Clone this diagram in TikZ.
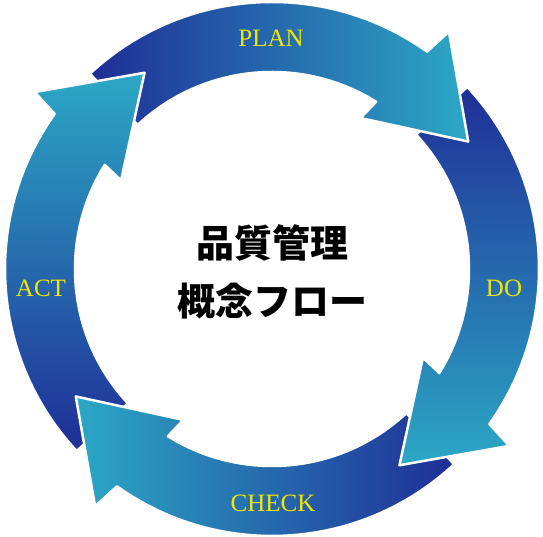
\documentclass[tikz,border=0pt]{standalone}
\usepackage{fontspec}
\setmainfont{Liberation Serif}
\newfontfamily\cjk{Noto Sans CJK JP}
\usepackage{tikz}
\definecolor{navy}{HTML}{1F2E96}
\definecolor{lightcyan}{HTML}{2CA8C5}
\definecolor{phaseyellow}{HTML}{F2E600}
\tikzstyle{ring}=[draw=white,line width=2.5,line join=round]
\tikzstyle{phase}=[text=phaseyellow,font=\fontsize{25}{25}\selectfont,inner sep=0pt]
\tikzstyle{title}=[font=\cjk\bfseries\fontsize{38}{58}\selectfont,align=center,inner sep=0pt]
% one bent arrow of the cycle, turned by #1 degrees
\newcommand{\cyclearrow}[2]{%
  \path[ring,#2] (#1+133:267) arc[start angle=#1+133,end angle=#1+54.5,radius=267]
    -- (#1+53.3:296) -- (#1+33:234) -- (#1+59.6:175) -- (#1+58.1:197)
    arc[start angle=#1+58.1,end angle=#1+133,radius=197] -- cycle;}

\begin{document}
\begin{tikzpicture}[x=1pt,y=1pt]
        \useasboundingbox (0,0) rectangle (543,537);
        \begin{scope}[shift={(272,268)}]
        \cyclearrow{90}{bottom color=navy,top color=lightcyan}
        \cyclearrow{180}{right color=navy,left color=lightcyan}
        \cyclearrow{-90}{top color=navy,bottom color=lightcyan}
        \cyclearrow{0}{left color=navy,right color=lightcyan}
        % ACT head goes over the PLAN tail
        \begin{scope}
          \clip (-300,0) rectangle (0,300);
          \cyclearrow{90}{bottom color=navy,top color=lightcyan}
        \end{scope}
        \node[phase] (plan) at (-1,231) {PLAN};
        \node[phase] (do) at (232,-19) {DO};
        \node[phase] (check) at (1,-234) {CHECK};
        \node[phase] (act) at (-231,-19) {ACT};
        \node[title] (title) at (0,-3) {品質管理\\概念フロー};
        \end{scope}
      \end{tikzpicture}
\end{document}
